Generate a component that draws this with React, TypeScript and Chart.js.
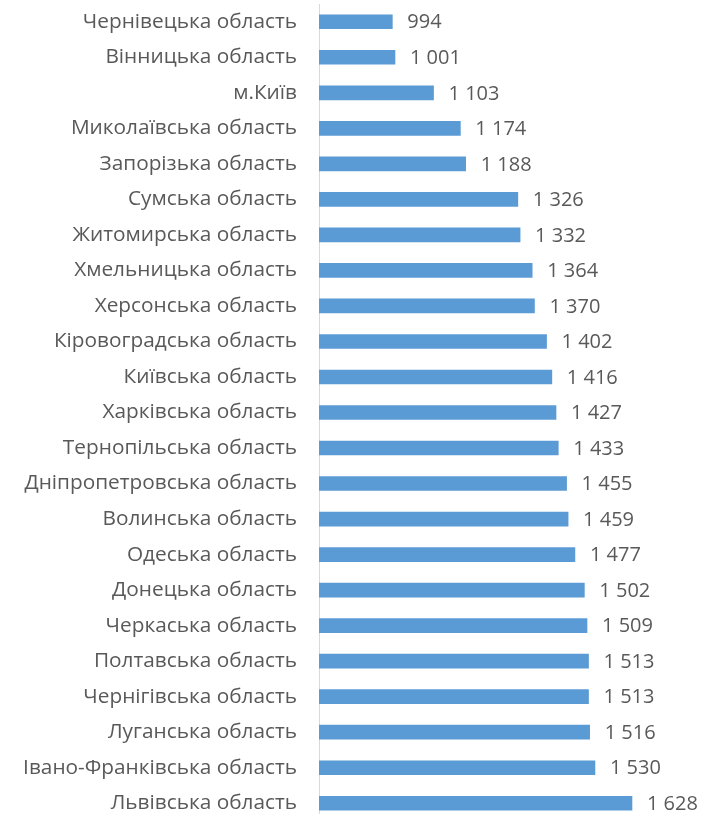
import React, { useEffect, useRef } from "react";
import { Chart, registerables } from "chart.js";

Chart.register(...registerables);

const categories: string[] = [
  "Чернівецька область",
  "Вінницька область",
  "м.Київ",
  "Миколаївська область",
  "Запорізька область",
  "Сумська область",
  "Житомирська область",
  "Хмельницька область",
  "Херсонська область",
  "Кіровоградська область",
  "Київська область",
  "Харківська область",
  "Тернопільська область",
  "Дніпропетровська область",
  "Волинська область",
  "Одеська область",
  "Донецька область",
  "Черкаська область",
  "Полтавська область",
  "Чернігівська область",
  "Луганська область",
  "Івано-Франківська область",
  "Львівська область",
];

const values: number[] = [
  994, 1001, 1103, 1174, 1188, 1326, 1332, 1364, 1370, 1402, 1416, 1427, 1433,
  1455, 1459, 1477, 1502, 1509, 1513, 1513, 1516, 1530, 1628,
];

const xMin = 800;
const xMax = 1800;

const FONT = "'Open Sans', sans-serif";
const TEXT = "#595959";

function fmt(v: number): string {
  const s = String(v);
  return s.length > 3 ? s.slice(0, s.length - 3) + " " + s.slice(-3) : s;
}

const valueLabels = {
  id: "valueLabels",
  afterDatasetsDraw(chart: any) {
    const ctx = chart.ctx;
    const meta = chart.getDatasetMeta(0);
    ctx.save();
    ctx.fillStyle = TEXT;
    ctx.font = `20px ${FONT}`;
    ctx.textAlign = "left";
    ctx.textBaseline = "middle";
    meta.data.forEach((bar: any, i: number) => {
      ctx.fillText(fmt(values[i]), bar.x + 15, bar.y + 1);
    });
    ctx.restore();
  },
};

export default function App() {
  const ref = useRef<HTMLCanvasElement>(null);
  useEffect(() => {
    if (!ref.current) return;
    const chart = new Chart(ref.current, {
      type: "bar",
      data: {
        labels: categories,
        datasets: [
          {
            data: values,
            backgroundColor: "#5B9BD5",
            borderWidth: 0,
            barThickness: 14,
          },
        ],
      },
      options: {
        indexAxis: "y",
        animation: false,
        responsive: false,
        maintainAspectRatio: false,
        layout: { padding: { top: 4, right: 28, bottom: 0, left: 0 } },
        plugins: {
          legend: { display: false },
          tooltip: { enabled: false },
        },
        scales: {
          x: {
            display: false,
            min: xMin,
            max: xMax,
          },
          y: {
            grid: { display: false, drawTicks: false },
            border: { display: true, color: "#D9D9D9", width: 1 },
            ticks: {
              color: TEXT,
              padding: 22,
              autoSkip: false,
              font: { family: FONT, size: 20.8 },
            },
            afterFit(scale: any) {
              scale.width = 319;
              scale.paddingTop = 0;
              scale.paddingBottom = 0;
            },
          },
        },
      },
      plugins: [valueLabels],
    });
    return () => chart.destroy();
  }, []);
  return (
    <div
      style={{
        position: "absolute",
        top: 0,
        left: 0,
        width: 725,
        height: 814,
        overflow: "hidden",
        background: "#fff",
      }}
    >
      <canvas ref={ref} width={725} height={821} style={{ display: "block" }} />
    </div>
  );
}
